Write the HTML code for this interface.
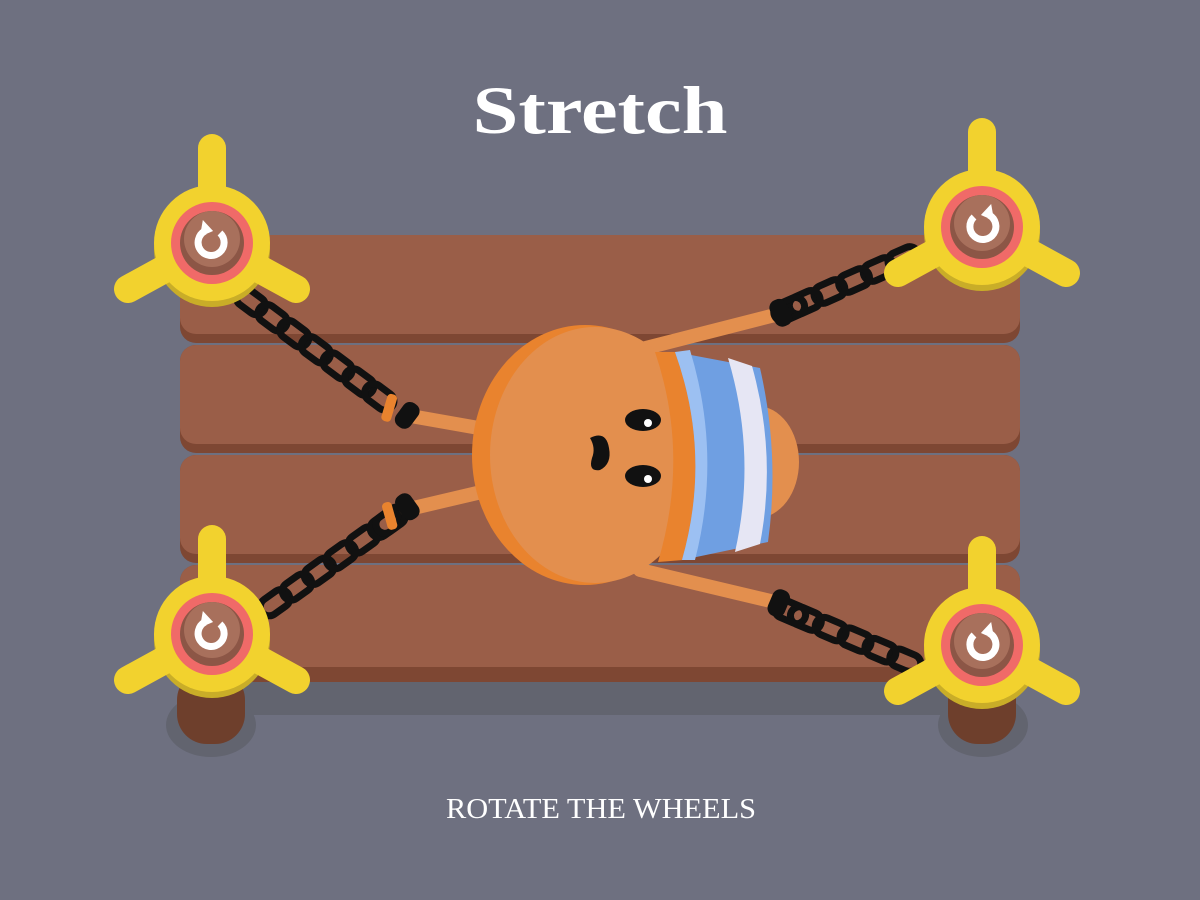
<!DOCTYPE html>
<html><head><meta charset="utf-8"><style>html,body{margin:0;padding:0;background:#6e7080;}svg{display:block}</style></head>
<body>
<svg width="1200" height="900" viewBox="0 0 1200 900" xmlns="http://www.w3.org/2000/svg">
<defs>
<g id="wheel">
  <circle cx="0" cy="6" r="58" fill="#c9ad28"/>
  <g stroke="#f2d22e" stroke-width="28" stroke-linecap="round">
    <line x1="0" y1="0" x2="0" y2="-95"/>
    <line x1="0" y1="0" x2="-84" y2="46"/>
    <line x1="0" y1="0" x2="84" y2="46"/>
  </g>
  <circle cx="0" cy="0" r="58" fill="#f2d22e"/>
  <circle cx="0" cy="0" r="41" fill="#f06a68"/>
  <circle cx="0" cy="0" r="32" fill="#8c5646"/>
  <circle cx="0" cy="-4" r="28" fill="#a8705c"/>
</g>
<g id="link"><rect x="0" y="-9" width="32" height="18" rx="9" fill="none" stroke="#111" stroke-width="7"/></g>
</defs>

<text x="600" y="133" text-anchor="middle" font-family="Liberation Serif, serif" font-weight="bold" font-size="68" fill="#fff" textLength="255" lengthAdjust="spacingAndGlyphs">Stretch</text>

<rect x="230" y="670" width="720" height="45" fill="#62646f"/>
<ellipse cx="211" cy="725" rx="45" ry="32" fill="#62646f"/>
<ellipse cx="983" cy="725" rx="45" ry="32" fill="#62646f"/>
<rect x="177" y="670" width="68" height="74" rx="30" fill="#6e3f2c"/>
<rect x="948" y="670" width="68" height="74" rx="30" fill="#6e3f2c"/>

<g>
  <rect x="180" y="235" width="840" height="108" rx="16" fill="#7e4733"/>
  <rect x="180" y="235" width="840" height="99" rx="16" fill="#9a5e48"/>
  <rect x="180" y="345" width="840" height="108" rx="16" fill="#7e4733"/>
  <rect x="180" y="345" width="840" height="99" rx="16" fill="#9a5e48"/>
  <rect x="180" y="455" width="840" height="108" rx="16" fill="#7e4733"/>
  <rect x="180" y="455" width="840" height="99" rx="16" fill="#9a5e48"/>
  <rect x="180" y="565" width="840" height="117" rx="16" fill="#7e4733"/>
  <rect x="180" y="565" width="840" height="102" rx="16" fill="#9a5e48"/>
</g>

<g stroke="#e38f4e" stroke-width="14" stroke-linecap="round">
  <line x1="405" y1="415" x2="490" y2="430"/>
  <line x1="775" y1="315" x2="630" y2="352"/>
  <line x1="405" y1="510" x2="490" y2="490"/>
  <line x1="775" y1="602" x2="640" y2="570"/>
</g>

<!-- chains -->
<g transform="translate(238,292) rotate(36.6)">
  <use href="#link" x="0"/><use href="#link" x="27"/><use href="#link" x="54"/><use href="#link" x="81"/><use href="#link" x="108"/><use href="#link" x="135"/><use href="#link" x="160"/>
</g>
<g transform="translate(918,252) rotate(156)">
  <use href="#link" x="0"/><use href="#link" x="27"/><use href="#link" x="54"/><use href="#link" x="81"/><use href="#link" x="108"/><use href="#link" x="125"/>
</g>
<g transform="translate(262,612) rotate(-35.5)">
  <use href="#link" x="0"/><use href="#link" x="27"/><use href="#link" x="54"/><use href="#link" x="81"/><use href="#link" x="108"/><use href="#link" x="135"/><use href="#link" x="142"/>
</g>
<g transform="translate(920,667) rotate(203)">
  <use href="#link" x="0"/><use href="#link" x="27"/><use href="#link" x="54"/><use href="#link" x="81"/><use href="#link" x="108"/><use href="#link" x="125"/>
</g>

<!-- cuffs -->
<g transform="translate(400,410) rotate(36.6)">
  <rect x="-16" y="-13" width="10" height="28" rx="4" fill="#e9832e" transform="rotate(-20)"/>
  <rect x="0" y="-14" width="18" height="28" rx="8" fill="#111"/>
</g>
<g transform="translate(400,512) rotate(-35.5)">
  <rect x="-16" y="-13" width="10" height="28" rx="4" fill="#e9832e" transform="rotate(20)"/>
  <rect x="0" y="-14" width="18" height="28" rx="8" fill="#111"/>
</g>
<g transform="translate(778,314) rotate(156)">
  <rect x="-12" y="-14" width="18" height="28" rx="8" fill="#111"/>
</g>
<g transform="translate(776,602) rotate(203)">
  <rect x="-12" y="-14" width="18" height="28" rx="8" fill="#111"/>
</g>

<!-- character -->
<ellipse cx="757" cy="462" rx="42" ry="56" fill="#e38f4e"/>
<ellipse cx="585" cy="455" rx="113" ry="130" fill="#e9832e"/>
<ellipse cx="595" cy="455" rx="105" ry="128" fill="#e38f4e"/>
<path d="M655 352 L680 352 Q 712 455 683 560 L 658 562 Q 690 455 655 352 Z" fill="#e9832e"/>
<!-- shirt -->
<path d="M675 352 L760 368 Q 780 455 768 542 L 682 560 Q 712 455 675 352 Z" fill="#6f9fe2"/>
<path d="M675 352 L690 350 Q 722 455 695 560 L 682 560 Q 712 455 675 352 Z" fill="#9cc0f2"/>
<path d="M728 358 L752 366 Q 777 455 760 544 L 735 552 Q 757 455 728 358 Z" fill="#e6e6f4"/>

<!-- face -->
<ellipse cx="643" cy="420" rx="18" ry="11" fill="#111"/>
<circle cx="648" cy="423" r="4" fill="#fff"/>
<ellipse cx="643" cy="476" rx="18" ry="11" fill="#111"/>
<circle cx="648" cy="479" r="4" fill="#fff"/>
<path d="M590 438 Q 606 430 609 448 Q 612 464 600 470 Q 588 472 592 458 Q 596 448 590 438 Z" fill="#111"/>

<!-- wheels -->
<g transform="translate(212,243)"><use href="#wheel"/>
  <path d="M-7 -12 A13 13 0 1 0 8 -10" fill="none" stroke="#fff" stroke-width="7"/>
  <polygon points="-13,-21 -1,-12 -13,-4" fill="#fff" transform="rotate(10)"/></g>
<g transform="translate(982,227)"><use href="#wheel"/>
  <path d="M7 -12 A13 13 0 1 1 -8 -10" fill="none" stroke="#fff" stroke-width="7"/>
  <polygon points="13,-21 1,-12 13,-4" fill="#fff" transform="rotate(-10)"/></g>
<g transform="translate(212,634)"><use href="#wheel"/>
  <path d="M-7 -12 A13 13 0 1 0 8 -10" fill="none" stroke="#fff" stroke-width="7"/>
  <polygon points="-13,-21 -1,-12 -13,-4" fill="#fff" transform="rotate(10)"/></g>
<g transform="translate(982,645)"><use href="#wheel"/>
  <path d="M7 -12 A13 13 0 1 1 -8 -10" fill="none" stroke="#fff" stroke-width="7"/>
  <polygon points="13,-21 1,-12 13,-4" fill="#fff" transform="rotate(-10)"/></g>

<text x="601" y="818" text-anchor="middle" font-family="Liberation Serif, serif" font-size="29" fill="#fff" textLength="310" lengthAdjust="spacingAndGlyphs">ROTATE THE WHEELS</text>
</svg>
</body></html>
